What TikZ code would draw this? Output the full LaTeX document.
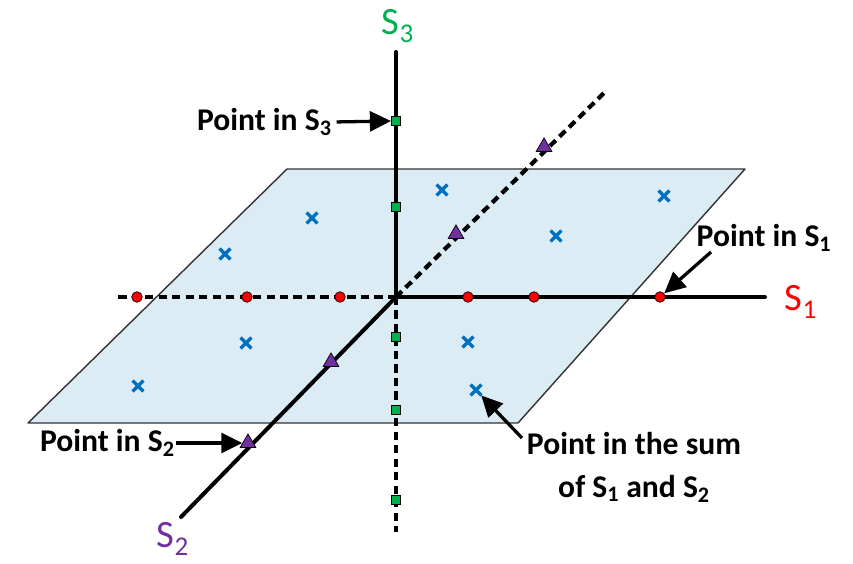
\documentclass[tikz,border=0pt]{standalone}
\usepackage{fontspec}
\setmainfont{Carlito}
\usepackage{tikz}
\usetikzlibrary{positioning,arrows.meta,shapes.geometric,shapes.misc}
\definecolor{planeblue}{RGB}{219,236,244}
\definecolor{sred}{RGB}{255,0,0}
\definecolor{sgreen}{RGB}{0,176,80}
\definecolor{spurple}{RGB}{112,48,160}
\definecolor{sblue}{RGB}{0,112,192}
\tikzset{
  plane/.style={fill=planeblue, draw=black!80, line width=1.2pt, line join=round},
  axis/.style={line width=3.4pt, line cap=round},
  daxis/.style={line width=3.6pt, dash pattern=on 7pt off 4.5pt},
  rdot/.style={circle, fill=sred, draw=black, line width=0.6pt, minimum size=9pt, inner sep=0pt},
  gsq/.style={rectangle, fill=sgreen, draw=black, line width=0.6pt, minimum size=8pt, inner sep=0pt},
  ptri/.style={regular polygon, regular polygon sides=3, fill=spurple, draw=black, line width=0.6pt, minimum size=15.5pt, inner sep=0pt},
  bx/.style={cross out, draw=sblue, line width=2.8pt, minimum size=6.5pt, inner sep=0pt},
  lbl/.style={font=\fontsize{27}{37}\selectfont\bfseries, inner sep=1pt},
  slbl/.style={font=\fontsize{33}{36}\selectfont, inner sep=1pt},
  pt/.style={line width=2.8pt, -{Triangle[length=18pt,width=17pt]}}
}

\begin{document}
\begin{tikzpicture}[x=0.03cm, y=-0.03cm]
  \useasboundingbox (0,0) rectangle (853,563);
  % plane
  \draw[plane] (28,423) -- (287,169) -- (745,169) -- (518,423) -- cycle;
  % axes
  \coordinate (o) at (396,297);
  \coordinate (s1e) at (765,297);
  \coordinate (s1w) at (118,297);
  \coordinate (s3n) at (396,52);
  \coordinate (s3s) at (396,532);
  \coordinate (s2sw) at (181,517);
  \coordinate (s2ne) at (605,92);
  \draw[daxis] (o) -- (s1w);
  \draw[daxis] (o) -- (s3s);
  \draw[daxis] (o) -- (s2ne);
  \draw[axis] (o) -- (s1e);
  \draw[axis] (o) -- (s3n);
  \draw[axis] (o) -- (s2sw);
  \node[slbl, text=sred] (S1) at (801,302) {S\textsubscript{1}};
  \node[slbl, text=sgreen] (S3) at (398,26) {S\textsubscript{3}};
  \node[slbl, text=spurple] (S2) at (173,539) {S\textsubscript{2}};
  % points in S1
  \foreach \x [count=\i] in {137,247,340,468,534,660}
    \node[rdot] (r\i) at (\x,297) {};
  % points in S3
  \foreach \y [count=\i] in {121,207,337,410,500}
    \node[gsq] (g\i) at (396,\y) {};
  % points in S2
  \node[ptri] (t1) at (544,147) {};
  \node[ptri] (t2) at (456,234) {};
  \node[ptri] (t3) at (331,362) {};
  \node[ptri] (t4) at (248,443) {};
  % points in the sum
  \foreach \p [count=\i] in {(442,190),(312,218),(664,196),(556,236),(225,254),(246,343),(468,342),(138,386),(476,390)}
    \node[bx] (x\i) at \p {};
  % labels
  \node[lbl, anchor=east] (l3) at (333,122) {Point in S\textsubscript{3}};
  \node[lbl] (l1) at (764,238) {Point in S\textsubscript{1}};
  \node[lbl, anchor=east] (l2) at (176,443) {Point in S\textsubscript{2}};
  \node[lbl, align=center] (ls) at (634,467) {Point in the sum\\of S\textsubscript{1} and S\textsubscript{2}};
  \coordinate (l1t) at (711,252);
  \coordinate (lst) at (522,438);
  \draw[pt, shorten <=3pt] (l3.east) -- (g1.west);
  \draw[pt] (l1t) -- (r6);
  \draw[pt] (l2.east) -- (t4.west);
  \draw[pt] (lst) -- (x9);
\end{tikzpicture}
\end{document}
